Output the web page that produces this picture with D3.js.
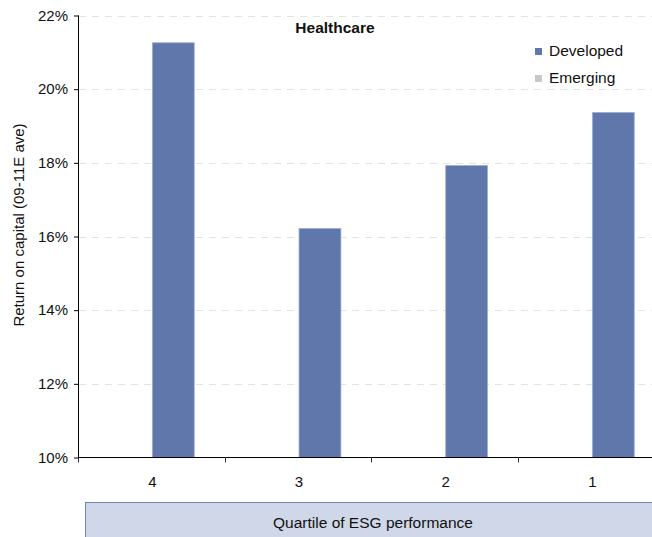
<!DOCTYPE html>
<html><head><meta charset="utf-8">
<script src="https://cdn.jsdelivr.net/npm/d3@7"></script>
<style>body{margin:0;background:#fff}svg{display:block;font-family:"Liberation Sans",Arial,sans-serif}</style>
</head><body>
<svg id="c" width="652" height="537"></svg>
<script>
const categories = ["4", "3", "2", "1"];
const seriesNames = ["Developed", "Emerging"];
const developed = [21.26, 16.22, 17.93, 19.37];
const emerging = [null, null, null, null];
const yTicks = [10, 12, 14, 16, 18, 20, 22];
const slotOrder = ["Emerging", "Developed"];
const chartTitle = "Healthcare";
const yTitle = "Return on capital (09-11E ave)";
const xTitle = "Quartile of ESG performance";
const colors = {Developed: "#5f77aa", Emerging: "#c8c8c8"};

const svg = d3.select("#c");
const pLeft = 79, pRight = 665.7, pTop = 15.5, pBottom = 457.5;

const x = d3.scaleBand().domain(categories).range([pLeft, pRight]).padding(0);
const x1 = d3.scaleBand().domain(slotOrder).range([0, x.bandwidth()]).paddingInner(0).paddingOuter(0.75);
const y = d3.scaleLinear().domain([10, 22]).range([pBottom, pTop]);

// gridlines
svg.append("g").selectAll("line").data(yTicks.filter(t => t > 10)).join("line")
  .attr("x1", pLeft).attr("x2", 652)
  .attr("y1", d => Math.round(y(d)) + 0.5).attr("y2", d => Math.round(y(d)) + 0.5)
  .attr("stroke", "#e3e3e3").attr("stroke-dasharray", "7,6");

// bars
const data = [];
categories.forEach((c, i) => {
  data.push({cat: c, s: "Developed", v: developed[i]});
  data.push({cat: c, s: "Emerging", v: emerging[i]});
});
svg.append("g").selectAll("rect").data(data.filter(d => d.v != null)).join("rect")
  .attr("x", d => x(d.cat) + x1(d.s))
  .attr("width", x1.bandwidth())
  .attr("y", d => y(d.v))
  .attr("height", d => y(10) - y(d.v))
  .attr("fill", d => colors[d.s])
  .attr("stroke", "#a3b1d3").attr("stroke-width", 0.8);

// y axis
const yAxis = d3.axisLeft(y).tickValues(yTicks).tickFormat(d => d + "%").tickSize(5).tickPadding(6);
const gy = svg.append("g").attr("transform", `translate(${pLeft},0)`).call(yAxis);
gy.select(".domain").attr("stroke", "#000").attr("d", `M-0.5,${pTop}V${pBottom}`);
gy.selectAll(".tick line").attr("stroke", "#000");
gy.selectAll(".tick text").attr("font-size", 15).attr("fill", "#111")
  .attr("font-family", "Liberation Sans, Arial, sans-serif");

// x axis
const xBounds = d3.range(categories.length + 1).map(i => pLeft + i * x.step());
svg.append("line").attr("x1", pLeft - 1).attr("x2", 652).attr("y1", pBottom).attr("y2", pBottom).attr("stroke", "#000");
svg.append("g").selectAll("line").data(xBounds).join("line")
  .attr("x1", d => Math.round(d) - 0.5).attr("x2", d => Math.round(d) - 0.5)
  .attr("y1", pBottom).attr("y2", pBottom + 5).attr("stroke", "#333");
const xAxis = d3.axisBottom(x).tickSize(0).tickPadding(0);
const gx = svg.append("g").attr("transform", `translate(0,${pBottom})`).call(xAxis);
gx.select(".domain").remove();
gx.selectAll(".tick text").attr("font-size", 15).attr("fill", "#111")
  .attr("font-family", "Liberation Sans, Arial, sans-serif")
  .attr("dy", null).attr("y", 29.5);

// y title
svg.append("text").attr("transform", "translate(24,225) rotate(-90)")
  .attr("text-anchor", "middle").attr("font-size", 15).attr("fill", "#111").text(yTitle);

// chart title
svg.append("text").attr("x", 335).attr("y", 32.5).attr("text-anchor", "middle")
  .attr("font-size", 15.5).attr("font-weight", "bold").attr("fill", "#111").text(chartTitle);

// legend
const lg = svg.append("g").selectAll("g").data(seriesNames).join("g")
  .attr("transform", (d, i) => `translate(535,${48 + i * 27})`);
lg.append("rect").attr("width", 7).attr("height", 7).attr("fill", d => colors[d]);
lg.append("text").attr("x", 14).attr("y", 8).attr("font-size", 15.5).attr("fill", "#111").text(d => d);

// bottom box
svg.append("rect").attr("x", 85.5).attr("y", 502.5).attr("width", 600).attr("height", 60)
  .attr("fill", "#cfd7e8").attr("stroke", "#6f88bb");
svg.append("text").attr("x", 373).attr("y", 528).attr("text-anchor", "middle")
  .attr("font-size", 15.5).attr("fill", "#111").text(xTitle);
</script>
</body></html>
